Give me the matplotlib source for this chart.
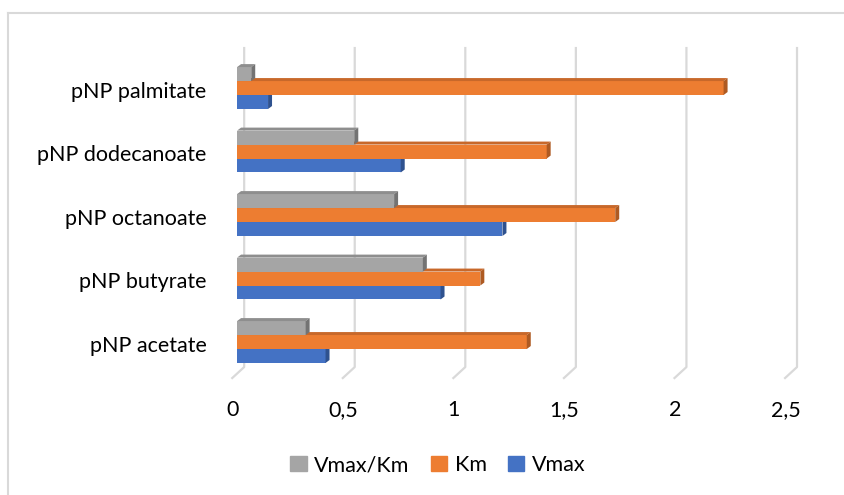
import matplotlib
matplotlib.use("Agg")
import matplotlib.pyplot as plt
from matplotlib.patches import Polygon, Patch
from matplotlib.lines import Line2D

plt.rcParams["font.family"] = ["Lato", "DejaVu Sans"]

# data, bottom to top
substrates = ["pNP acetate", "pNP butyrate", "pNP octanoate", "pNP dodecanoate", "pNP palmitate"]
vmax = [0.40, 0.92, 1.20, 0.74, 0.14]
km = [1.31, 1.10, 1.71, 1.40, 2.20]
vmax_km = [0.31, 0.84, 0.71, 0.53, 0.064]
xticks = [0, 0.5, 1, 1.5, 2, 2.5]

# name, values, offset, front, top face, side face
series = [
    ("Vmax", vmax, -0.22, "#4472C4", "#3A62AD", "#2F528F"),
    ("Km", km, 0.0, "#ED7D31", "#C8682A", "#AE5A22"),
    ("Vmax/Km", vmax_km, 0.22, "#A5A5A5", "#8E8E8E", "#737373"),
]

fig = plt.figure(figsize=(8.45, 4.95), dpi=100)
ax = fig.add_axes([0.2675, 0.2513, 0.6935, 0.6632])
ax.set_xlim(-0.05, 2.6)
ax.set_ylim(-0.45, 4.72)

# back wall gridlines + floor
grid_c = "#D9D9D9"
for t in xticks:
    ax.plot([t + 0.032, t + 0.032, t - 0.022], [4.63, -0.394, -0.567],
            color=grid_c, lw=1.6, clip_on=False, zorder=0)

h = 0.22
dx, dy = 0.018, 0.047
for name, vals, off, c_front, c_top, c_side in series:
    for i, v in enumerate(vals):
        y0 = i + off - h / 2
        y1 = i + off + h / 2
        ax.barh(i + off, v, height=h, color=c_front, zorder=2)
        ax.add_patch(Polygon([(0, y1), (v, y1), (v + dx, y1 + dy), (dx, y1 + dy)],
                             closed=True, color=c_top, lw=0, zorder=2))
        ax.add_patch(Polygon([(v, y0), (v, y1), (v + dx, y1 + dy), (v + dx, y0 + dy)],
                             closed=True, color=c_side, lw=0, zorder=2))

ax.set_yticks([i - 0.03 for i in range(len(substrates))])
ax.set_yticklabels(substrates, fontsize=15.5)
ax.tick_params(axis="y", length=0, pad=14)
ax.set_xticks([])
for t in xticks:
    ax.text(t - 0.02, -1.07, f"{t:g}".replace(".", ","), ha="center", va="center",
            fontsize=15.5, clip_on=False)
for s in ax.spines.values():
    s.set_visible(False)

handles = [Patch(color=s[3]) for s in series[::-1]]
labels = [s[0] for s in series[::-1]]
fig.legend(handles, labels, loc="center", bbox_to_anchor=(438 / 845, 1 - 465 / 495),
           ncol=3, frameon=False, fontsize=15.5, handlelength=0.75, handleheight=0.75,
           handletextpad=0.35, columnspacing=1.0)

# chart area border (only top and left visible)
fig.add_artist(Line2D([8 / 845, 1], [1 - 13 / 495, 1 - 13 / 495], color=grid_c, lw=1.5))
fig.add_artist(Line2D([8 / 845, 8 / 845], [0, 1 - 13 / 495], color=grid_c, lw=1.5))

fig.savefig("out.png", dpi=100)
